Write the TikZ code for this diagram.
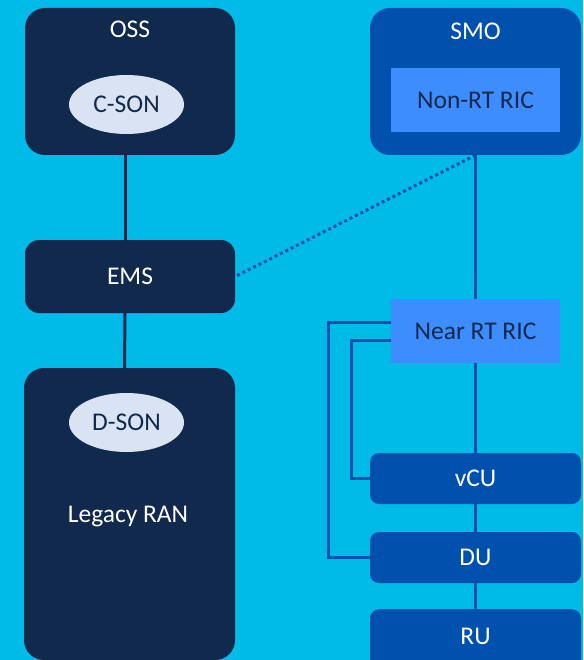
\documentclass[tikz,border=0pt]{standalone}
\usepackage{fontspec}
\setmainfont{Carlito}
\definecolor{bgc}{HTML}{00BAE8}
\definecolor{navy}{HTML}{10294C}
\definecolor{smob}{HTML}{0050AE}
\definecolor{lightb}{HTML}{3D8DFF}
\definecolor{ellc}{HTML}{DAE3F3}
\newcommand{\txtsize}{\fontsize{25.5}{30}\selectfont}
\tikzset{
  navybox/.style={draw=none, fill=navy, rounded corners=20pt, inner sep=0pt},
  smobox/.style={draw=none, fill=smob, rounded corners=20pt, inner sep=0pt},
  ranbox/.style={draw=none, fill=smob, rounded corners=9pt, inner sep=0pt, minimum width=211pt, text=white, font=\txtsize},
  ricbox/.style={draw=none, fill=lightb, inner sep=0pt, minimum width=169pt, minimum height=64pt, text=navy, font=\txtsize},
  sonell/.style={ellipse, fill=ellc, minimum width=115pt, minimum height=59pt, inner sep=0pt, text=navy, font=\txtsize},
  wlabel/.style={text=white, font=\txtsize, inner sep=0pt},
  navyline/.style={draw=navy, line width=3pt},
  blueline/.style={draw=smob, line width=3pt},
}
\usetikzlibrary{shapes.geometric}
\begin{document}
\begin{tikzpicture}[x=1pt,y=-1pt]
\clip (0,0) rectangle (583,660);
\fill[bgc] (0,0) rectangle (583,660);
% left column
\node[navybox, minimum width=210pt, minimum height=147pt] (oss) at (130,81.5) {};
\node[wlabel] (osst) at (130,29) {OSS};
\node[sonell] (cson) at (126.5,104.5) {C-SON};
\node[navybox, rounded corners=14pt, minimum width=210pt, minimum height=73pt, text=white, font=\txtsize] (ems) at (130,276.5) {EMS};
\node[navybox, minimum width=211pt, minimum height=292pt] (ran) at (129.5,514) {};
\node[sonell] (dson) at (126.5,422.5) {D-SON};
\node[wlabel] (rant) at (128,517) {Legacy RAN};
% right column
\node[smobox, minimum width=211pt, minimum height=147pt] (smo) at (475.5,81.5) {};
\node[wlabel] (smot) at (475.5,31) {SMO};
\node[ricbox] (nonrt) at (475.5,100) {Non-RT RIC};
\node[ricbox] (nrt) at (475.5,331) {Near RT RIC};
\node[ranbox, minimum height=51pt] (vcu) at (475.5,478.5) {vCU};
\node[ranbox, minimum height=51pt] (du) at (475.5,557.5) {DU};
\node[ranbox, minimum height=62pt, anchor=north] (ru) at (475.5,609) {};
\node[wlabel] (rut) at (475.5,636) {RU};
% connectors
\draw[navyline] ([xshift=-5pt]oss.south) -- ([xshift=-5pt]ems.north);
\draw[navyline] ([xshift=-5pt]ems.south) -- ([xshift=-5pt]ran.north);
\draw[smob, line width=3pt, dash pattern=on 3pt off 3pt] (smo.south) -- (ems.east);
\draw[blueline] (smo.south) -- (nrt.north);
\draw[blueline] (nrt.south) -- (vcu.north);
\draw[blueline] (vcu.south) -- (du.north);
\draw[blueline] (du.south) -- (ru.north);
\draw[blueline] ([yshift=9pt]nrt.west) -- ++(-62,0) |- (du.west);
\draw[blueline] ([yshift=-9pt]nrt.west) -- ++(-39,0) |- (vcu.west);
\end{tikzpicture}
\end{document}
